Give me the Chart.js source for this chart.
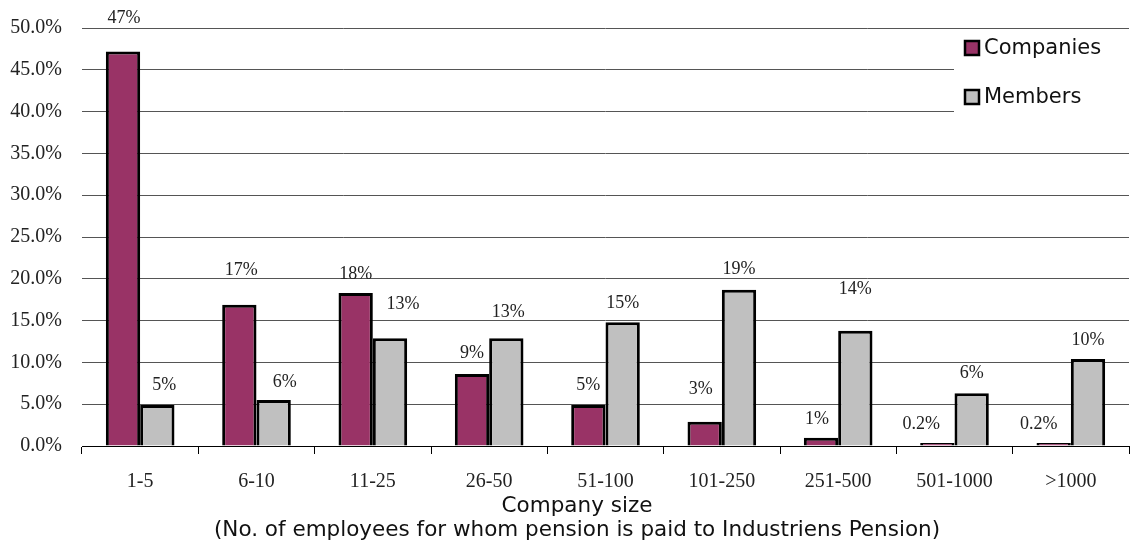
<!DOCTYPE html>
<html>
<head>
<meta charset="utf-8">
<script src="https://cdn.jsdelivr.net/npm/chart.js@4"></script>
<style>
  html, body { margin: 0; padding: 0; background: #fff; }
  #wrap { width: 1130px; height: 551px; }
</style>
</head>
<body>
<div id="wrap"><canvas id="myChart"></canvas></div>
<script>
// company size groups and share of companies / members (in %)
var sizes = ['1-5', '6-10', '11-25', '26-50', '51-100', '101-250', '251-500', '501-1000', '>1000'];
var companies = [47.2, 16.9, 18.3, 8.6, 4.9, 2.9, 1.0, 0.2, 0.2];
var members = [4.9, 5.5, 12.9, 12.9, 14.8, 18.7, 13.8, 6.3, 10.4];
var yTicks = [0, 5, 10, 15, 20, 25, 30, 35, 40, 45, 50];
var xTitle = ['Company size', '(No. of employees for whom pension is paid to Industriens Pension)'];

function pctLabel(v) {
    return v < 1 ? v.toFixed(1) + '%' : Math.round(v) + '%';
}

// value labels over each bar (the original had some of them dragged by hand)
const barLabels = {
    id: 'barLabels',
    afterDatasetsDraw(chart, args, opts) {
        const ctx = chart.ctx;
        ctx.save();
        ctx.font = '18px "Liberation Serif"';
        ctx.fillStyle = '#222';
        ctx.textAlign = 'center';
        ctx.textBaseline = 'middle';
        chart.data.datasets.forEach(function (ds, i) {
            const nudge = opts.nudge[i];
            chart.getDatasetMeta(i).data.forEach(function (bar, j) {
                const n = nudge[j] || [0, 0];
                const base = chart.scales.y.getPixelForValue(ds.data[j]);
                ctx.fillText(pctLabel(ds.data[j]), bar.x + n[0], base - 20 - n[1]);
            });
        });
        ctx.restore();
    }
};

// legend box sitting inside the plot, top right
const boxLegend = {
    id: 'boxLegend',
    afterDraw(chart) {
        const ctx = chart.ctx;
        const area = chart.chartArea;
        const left = area.right - 175;
        ctx.save();
        ctx.fillStyle = '#fff';
        ctx.fillRect(left, area.top + 2, 175, 100);
        ctx.font = '21px "DejaVu Sans"';
        ctx.textBaseline = 'middle';
        chart.data.datasets.forEach(function (ds, i) {
            const y = area.top + 20 + i * 49;
            ctx.fillStyle = ds.backgroundColor;
            ctx.fillRect(left + 11, y - 7, 14, 14);
            ctx.lineWidth = 2.5;
            ctx.strokeStyle = '#000';
            ctx.strokeRect(left + 11, y - 7, 14, 14);
            ctx.fillStyle = '#111';
            ctx.fillText(ds.label, left + 30, y + 1);
        });
        ctx.restore();
    }
};

// axis title, centred a bit left of the plot like the original
const axisTitle = {
    id: 'axisTitle',
    afterDraw(chart) {
        const ctx = chart.ctx;
        const cx = chart.width / 2 + 12;
        ctx.save();
        ctx.font = '21.5px "DejaVu Sans"';
        ctx.fillStyle = '#111';
        ctx.textAlign = 'center';
        ctx.textBaseline = 'middle';
        xTitle.forEach(function (line, i) {
            ctx.fillText(line, cx, chart.chartArea.bottom + 60 + i * 24);
        });
        ctx.restore();
    }
};

const GRAPH = document.getElementById('myChart');
const barGraph = new Chart(GRAPH, {
    type: 'bar',
    data: {
        labels: sizes,
        datasets: [{
            label: 'Companies',
            data: companies,
            backgroundColor: '#993366',
            borderColor: '#000',
            borderWidth: 3,
            minBarLength: 3
        }, {
            label: 'Members',
            data: members,
            backgroundColor: '#c0c0c0',
            borderColor: '#000',
            borderWidth: 3
        }]
    },
    options: {
        responsive: true,
        maintainAspectRatio: false,
        animation: false,
        events: [],
        categoryPercentage: 0.59,
        barPercentage: 1,
        layout: { padding: { top: 28, right: 1, bottom: 8, left: 0 } },
        plugins: {
            legend: { display: false },
            tooltip: { enabled: false },
            barLabels: {
                nudge: [
                    [[1, 13], [2, 14], [0, -1], [0, 1], [0, 0], [-4, 12], [-4, -2], [-16, 0], [-15, 0]],
                    [[7, 0], [11, -2], [13, 14], [2, 6], [0, -1], [0, 0], [0, 21], [0, 0], [0, -1]]
                ]
            }
        },
        scales: {
            x: {
                afterFit: function (scale) { scale.height = 97; },
                grid: {
                    display: true,
                    drawOnChartArea: false,
                    drawTicks: true,
                    tickLength: 8,
                    color: '#000'
                },
                border: { display: true, color: '#000', width: 1 },
                ticks: {
                    padding: 16,
                    color: '#222',
                    font: { family: '"Liberation Serif"', size: 20 }
                }
            },
            y: {
                min: 0,
                max: 50,
                afterFit: function (scale) {
                    scale.width = 82;
                    scale.paddingTop = 0;
                    scale.paddingBottom = 0;
                },
                afterBuildTicks: function (scale) {
                    scale.ticks = yTicks.map(function (v) { return { value: v }; });
                },
                grid: {
                    color: function (c) { return c.tick && c.tick.value === 0 ? '#000' : '#555'; },
                    drawTicks: false
                },
                border: { display: false },
                ticks: {
                    padding: 20,
                    color: '#222',
                    font: { family: '"Liberation Serif"', size: 20 },
                    callback: function (v) { return v.toFixed(1) + '%'; }
                }
            }
        }
    },
    plugins: [barLabels, boxLegend, axisTitle]
});
</script>
</body>
</html>
